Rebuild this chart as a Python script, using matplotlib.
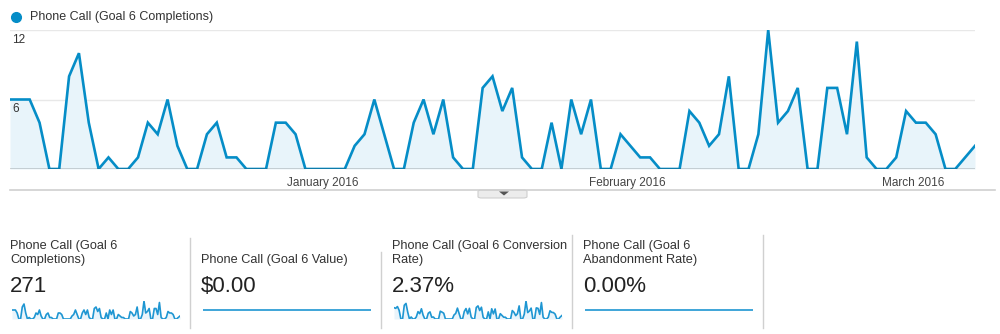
import numpy as np
import pandas as pd
import matplotlib
matplotlib.use("Agg")
import matplotlib.pyplot as plt
from matplotlib.patches import FancyBboxPatch, Polygon
from matplotlib.transforms import ScaledTranslation

plt.rcParams['font.family'] = ['Liberation Sans', 'DejaVu Sans']

# --- daily goal completions, 1 Dec 2015 - 8 Mar 2016 ---
start_date = "2015-12-01"
completions = [6, 6, 6, 4, 0, 0, 8, 10, 4, 0, 1, 0, 0, 1, 4, 3, 6, 2, 0, 0, 3, 4, 1, 1, 0, 0, 0, 4, 4, 3, 0, 0, 0, 0,
               0, 2, 3, 6, 3, 0, 0, 4, 6, 3, 6, 1, 0, 0, 7, 8, 5, 7, 1, 0, 0, 4, 0, 6, 3, 6, 0, 0, 3, 2, 1, 1, 0,
               0, 0, 5, 4, 2, 3, 8, 0, 0, 3, 12, 4, 5, 7, 0, 0, 7, 7, 3, 11, 1, 0, 0, 1, 5, 4, 4, 3, 0, 0, 1, 2]
conversion_rate = [5.1, 4.8, 5.6, 3.9, 0, 0, 6.2, 7.0, 3.1, 0, 0.9, 0, 0, 0.9, 3.3, 2.4, 4.6, 1.7, 0, 0, 2.6, 3.2,
                   0.8, 0.9, 0, 0, 0, 3.5, 3.1, 2.6, 0, 0, 0, 0,
                   0, 1.8, 2.5, 4.9, 2.4, 0, 0, 3.4, 4.7, 2.3, 4.8, 0.9, 0, 0, 5.2, 5.9, 3.8, 5.3, 0.8, 0, 0, 3.2,
                   0, 4.6, 2.3, 4.5, 0, 0, 2.4, 1.6, 0.8, 0.8, 0,
                   0, 0, 3.8, 3.0, 1.5, 2.4, 5.9, 0, 0, 2.2, 8.1, 2.9, 3.6, 4.9, 0, 0, 5.0, 4.8, 2.1, 7.4, 0.8,
                   0, 0, 0.8, 3.7, 3.0, 2.9, 2.2, 0, 0, 0.9, 1.6]
goal_value = [0.0] * len(completions)
abandonment_rate = [0.0] * len(completions)

series_name = "Phone Call (Goal 6 Completions)"
y_ticks = [6, 12]
month_ticks = ["2016-01-01", "2016-02-01", "2016-03-01"]
month_labels = ["January 2016", "February 2016", "March 2016"]

panel_titles = ["Phone Call (Goal 6\nCompletions)", "Phone Call (Goal 6 Value)",
                "Phone Call (Goal 6 Conversion\nRate)", "Phone Call (Goal 6\nAbandonment Rate)"]
panel_values = ["271", "$0.00", "2.37%", "0.00%"]
panel_series = [completions, goal_value, conversion_rate, abandonment_rate]

dates = pd.date_range(start_date, periods=len(completions), freq="D")

W, H = 1000, 334
fig = plt.figure(figsize=(W / 100, H / 100), dpi=100)


def box(x0, y0, x1, y1):
    # pixel box (top-left origin) -> figure fraction rect
    return [x0 / W, 1 - y1 / H, (x1 - x0) / W, (y1 - y0) / H]


def px(x, y):
    return x / W, 1 - y / H


LINE = "#058dc7"
FILL = "#e8f4fa"
TEXT = "#333333"

# --- main chart ---
ax = fig.add_axes(box(10, 30, 975, 169))
ax.fill_between(dates, completions, 0, color=FILL, lw=0)
ax.plot(dates, completions, color=LINE, lw=1.9, solid_joinstyle="miter")
ax.set_xlim(dates[0], dates[-1])
ax.set_ylim(0, 12)
for s in ax.spines.values():
    s.set_visible(False)
ax.axhline(0, color="#333333", lw=1.0, zorder=3)
down = ScaledTranslation(0.02, -0.04, fig.dpi_scale_trans)
for t in y_ticks:
    ax.axhline(t, color="#e8e8e8", lw=1.0, zorder=0)
    ax.text(0, t, str(t), transform=ax.get_yaxis_transform() + down,
            fontsize=8.5, color=TEXT, va="top", ha="left")
ax.set_yticks([])
ax.set_xticks(pd.to_datetime(month_ticks))
ax.set_xticklabels(month_labels, fontsize=8.5, color="#444444")
ax.tick_params(axis="x", length=0, pad=6)
shift = ScaledTranslation(0.07, 0, fig.dpi_scale_trans)
for lab in ax.get_xticklabels():
    lab.set_transform(lab.get_transform() + shift)

# legend
fig.add_artist(plt.Line2D([16 / W], [1 - 17 / H], marker="o", markersize=7, color=LINE, lw=0))
fig.text(*px(30, 17), series_name, fontsize=9, color=TEXT, va="center", ha="left")

# bottom border and drop-down tab
fig.add_artist(plt.Line2D([10 / W, 995 / W], [1 - 190 / H] * 2, color="#d0d0d0", lw=1.2))
tab = FancyBboxPatch((478 / W, 1 - 198 / H), 49 / W, 8 / H, boxstyle="round,pad=0,rounding_size=0.004",
                     transform=fig.transFigure, facecolor="#ececec", edgecolor="#cfcfcf", lw=0.8)
fig.add_artist(tab)
fig.add_artist(Polygon([px(499, 191.5), px(509, 191.5), px(504, 195.5)], closed=True,
                       transform=fig.transFigure, facecolor="#555555", edgecolor="none"))

# --- scorecards ---
panel_x = [10, 201, 392, 583]
sep_x = [190, 381, 572, 763]
sep_top = [238, 252, 235, 235]
for i, (title, value, series) in enumerate(zip(panel_titles, panel_values, panel_series)):
    x0 = panel_x[i]
    fig.text(*px(x0, 266), title, fontsize=9.2, color=TEXT, va="bottom", ha="left", linespacing=1.25)
    fig.text(*px(x0, 286), value, fontsize=16, color="#222222", va="center", ha="left")
    sp = fig.add_axes(box(x0 + 2, 301, x0 + 170, 319))
    vals = np.array(series, dtype=float)
    sp.plot(np.arange(len(vals)), vals, color="#1e96d2", lw=1.2)
    if vals.max() > 0:
        sp.fill_between(np.arange(len(vals)), vals, 0, color="#e9f4fb", lw=0)
        sp.set_ylim(0, vals.max())
    else:
        sp.set_ylim(-1, 1)
    sp.set_xlim(0, len(vals) - 1)
    sp.axis("off")
    fig.add_artist(plt.Line2D([sep_x[i] / W] * 2, [1 - sep_top[i] / H, 1 - 328 / H], color="#d0d0d0", lw=1.0))

fig.savefig("out.png", dpi=100, facecolor="white")
